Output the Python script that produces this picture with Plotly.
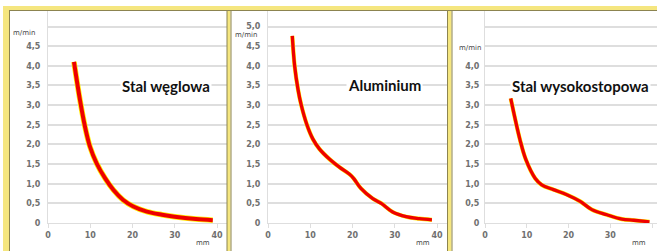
import plotly.graph_objects as go

W, H = 657, 251

# ---- data ----
titles = ["Stal węglowa", "Aluminium", "Stal wysokostopowa"]

x_stal = [6.15, 7.57, 8.76, 9.94, 11.5, 13.5, 15.5, 17.8, 20.2, 23.4, 27.0, 30.0, 35.0, 39.0]
y_stal = [4.10, 3.13, 2.45, 1.94, 1.52, 1.14, 0.84, 0.585, 0.42, 0.29, 0.21, 0.16, 0.10, 0.07]

x_alu = [5.75, 6.3, 7.1, 7.87, 9.21, 10.6, 12.2, 14.6, 16.9, 19.3, 20.3, 22.0, 24.8, 26.8, 29.5, 32.7, 35.8, 38.8]
y_alu = [4.76, 4.0, 3.4, 3.0, 2.5, 2.14, 1.88, 1.62, 1.42, 1.24, 1.13, 0.88, 0.62, 0.5, 0.28, 0.16, 0.11, 0.08]

x_hss = [6.16, 8.4, 9.8, 12.0, 13.6, 16.4, 19.6, 22.8, 25.6, 29.2, 32.8, 35.6, 39.4]
y_hss = [3.17, 2.11, 1.61, 1.14, 0.97, 0.85, 0.72, 0.55, 0.34, 0.21, 0.10, 0.07, 0.03]

y_tickvals = [0, 0.5, 1, 1.5, 2, 2.5, 3, 3.5, 4, 4.5, 5]
y_ticks_p1 = ["0", "0,5", "1,0", "1,5", "2,0", "2,5", "3,0", "3,5", "4,0", "4,5", ""]
y_ticks_p2 = ["0", "0,5", "1,0", "1,5", "2,0", "2,5", "3,0", "3,5", "4,0", "4,5", "5,0"]
y_ticks_p3 = ["0", "0,5", "1,0", "1,5", "2,0", "2,5", "3,0", "3,5", "4,0", "", ""]
x_tickvals = [0, 10, 20, 30, 40]
x_ticktext = ["0", "10", "20", "30", "40"]
y_unit = "m/min"
x_unit = "mm"

# ---- layout helpers ----
def px(x):
    return x / W

def py(y):
    return 1 - y / H

series = [(x_stal, y_stal, y_ticks_p1), (x_alu, y_alu, y_ticks_p2), (x_hss, y_hss, y_ticks_p3)]
x0_px = [48, 268, 485]
x_right_px = [227, 447, 657]
scale = [4.225, 4.225, 4.175]
y0_px, ytop_px, y_scale = 223, 11, 39.3

fig = go.Figure()
grid = "#dedede"
tickfont = dict(family="DejaVu Sans", size=8, color="#707070", weight="bold")

for i, (xs, ys, ytt) in enumerate(series):
    n = "" if i == 0 else str(i + 1)
    xa, ya = "x" + n, "y" + n
    fig.add_trace(go.Scatter(x=xs, y=ys, mode="lines", xaxis=xa, yaxis=ya,
                             line=dict(color="#ffee00", width=5.5 if i == 0 else 4.2, shape="spline", smoothing=1.0),
                             hoverinfo="skip", showlegend=False))
    fig.add_trace(go.Scatter(x=xs, y=ys, mode="lines", xaxis=xa, yaxis=ya,
                             line=dict(color="#ee0000", width=4.0 if i == 0 else 3.3, shape="spline", smoothing=1.0),
                             showlegend=False))
    xr = (x_right_px[i] - x0_px[i]) / scale[i]
    fig.layout["xaxis" + n] = dict(
        domain=[px(x0_px[i]), px(x_right_px[i])], range=[0, xr], anchor=ya,
        tickvals=x_tickvals, ticktext=x_ticktext, showgrid=False, zeroline=False,
        showline=True, linecolor=grid, linewidth=1, automargin=False,
        ticks="outside", ticklen=4, tickcolor=grid, tickfont=tickfont,
        ticklabelstandoff=0, fixedrange=True)
    fig.layout["yaxis" + n] = dict(
        domain=[py(y0_px), py(ytop_px)], range=[0, (y0_px - ytop_px) / y_scale], anchor=xa,
        tickvals=y_tickvals, ticktext=ytt, showgrid=True, gridcolor=grid, gridwidth=1.5,
        zeroline=False, showline=True, linecolor=grid, linewidth=1, automargin=False,
        ticks="", tickfont=tickfont, ticklabelstandoff=5 if i < 2 else 3, fixedrange=True)

annotations = []
title_pos = [(166, 86), (384, 85), (580, 86)]
for t, (cx, cy) in zip(titles, title_pos):
    annotations.append(dict(text="<b>" + t + "</b>", x=px(cx), y=py(cy), xref="paper", yref="paper",
                            showarrow=False, font=dict(family="Lato", size=15, color="#111111"),
                            bgcolor="white", borderpad=1, xanchor="center", yanchor="middle"))
unit_pos = [(24, 33), (246, 35), (470, 48)]
for (cx, cy) in unit_pos:
    annotations.append(dict(text=y_unit, x=px(cx), y=py(cy), xref="paper", yref="paper",
                            showarrow=False, font=dict(family="DejaVu Sans", size=7, color="#444"),
                            xanchor="center", yanchor="middle"))
mm_pos = [203, 423, 639]
for cx in mm_pos:
    annotations.append(dict(text=x_unit, x=px(cx), y=py(243), xref="paper", yref="paper",
                            showarrow=False, font=dict(family="DejaVu Sans", size=7, color="#444"),
                            xanchor="center", yanchor="middle"))

yellow = "#f5e67f"
dark = "#8c8450"
shapes = []
def rect(x1, y1, x2, y2, color):
    shapes.append(dict(type="rect", xref="paper", yref="paper", x0=px(x1), x1=px(x2),
                       y0=py(y2), y1=py(y1), fillcolor=color, line=dict(width=0), layer="above"))
rect(3, 6, W, 10, yellow)
rect(3, 6, 9, H, yellow)
rect(227, 6, 230.5, H, yellow)
rect(447.5, 6, 451.5, H, yellow)
rect(9, 10, W, 11, dark)
for xl in [9, 226.5, 230.5, 447, 451.5]:
    rect(xl, 10, xl + 1, H, dark)

fig.update_layout(width=W, height=H, margin=dict(l=0, r=0, t=0, b=0),
                  paper_bgcolor="white", plot_bgcolor="white",
                  annotations=annotations, shapes=shapes, showlegend=False)

fig.write_html("out.html", config={"displayModeBar": False},
               post_script="document.body.style.margin='0';document.body.style.overflow='hidden';")
